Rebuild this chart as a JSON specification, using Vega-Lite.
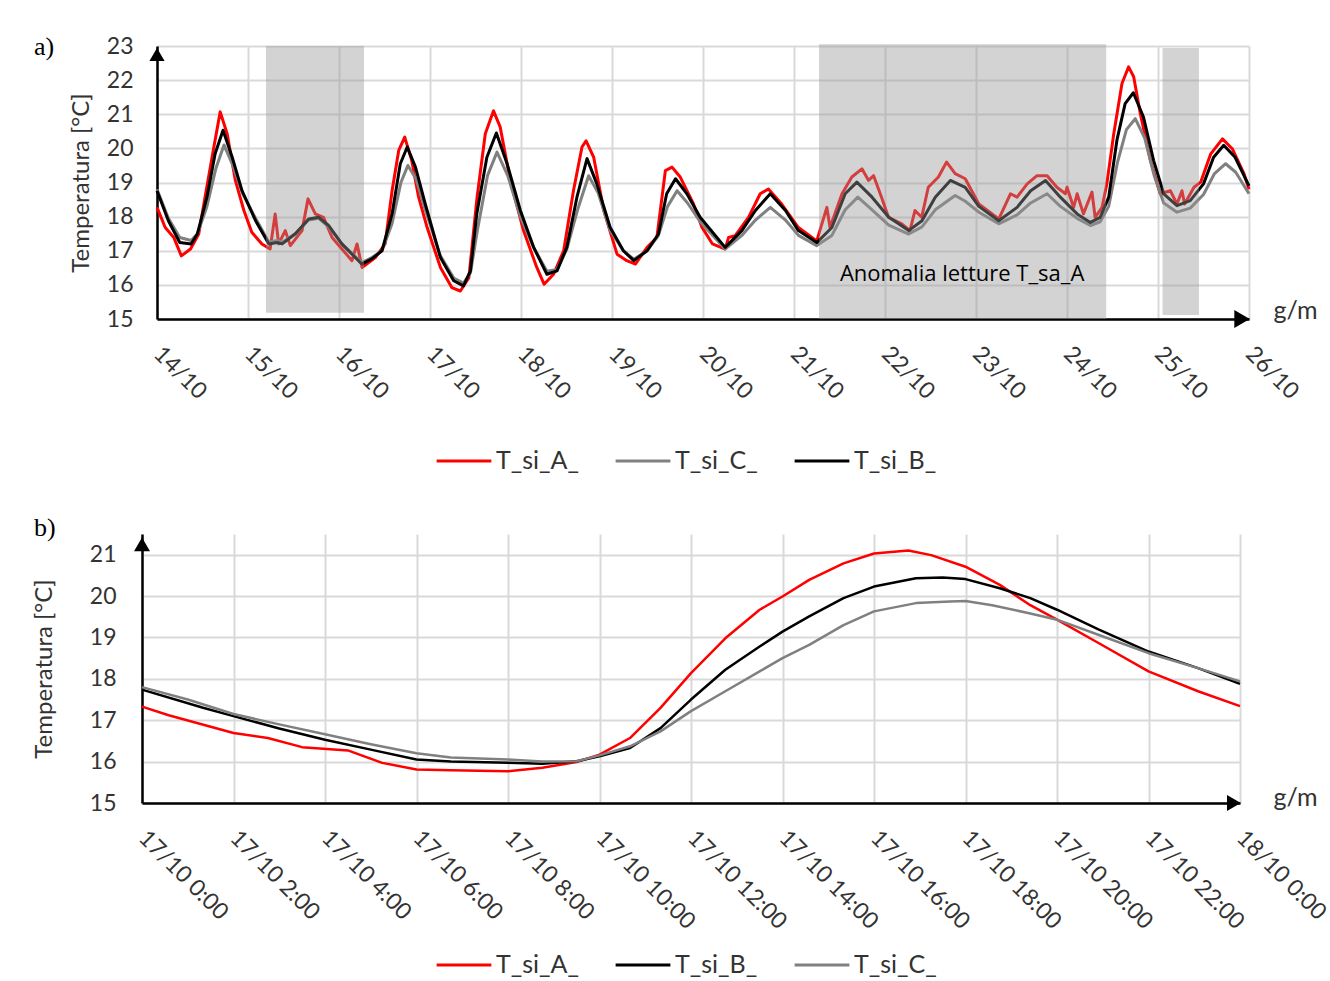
{
  "$schema": "https://vega.github.io/schema/vega-lite/v6.json",
  "background": "white",
  "padding": {"left": 32, "top": 34, "right": 5, "bottom": 2},
  "spacing": 41,
  "columns": 1,
  "config": {
    "view": {"stroke": null},
    "font": "Lato",
    "axis": {
      "grid": true, "gridColor": "#d9d9d9", "gridWidth": 2,
      "domainColor": "black", "domainWidth": 2.5, "ticks": false,
      "labelFont": "Lato", "labelFontSize": 23, "labelColor": "#333333",
      "titleFont": "Lato", "titleFontSize": 24, "titleFontWeight": "normal", "titleColor": "#333333"
    },
    "title": {"font": "Liberation Serif", "fontSize": 26, "fontWeight": "normal", "anchor": "start", "frame": "group", "color": "black"}
  },
  "datasets": {
    "seriesA": [
      {"t": "2019-10-14T00:00", "s": "T_si_A_", "v": 18.27},
      {"t": "2019-10-14T02:10", "s": "T_si_A_", "v": 17.68},
      {"t": "2019-10-14T04:25", "s": "T_si_A_", "v": 17.39},
      {"t": "2019-10-14T06:25", "s": "T_si_A_", "v": 16.85},
      {"t": "2019-10-14T08:50", "s": "T_si_A_", "v": 17.05},
      {"t": "2019-10-14T11:00", "s": "T_si_A_", "v": 17.49},
      {"t": "2019-10-14T12:40", "s": "T_si_A_", "v": 18.57},
      {"t": "2019-10-14T15:00", "s": "T_si_A_", "v": 20.04},
      {"t": "2019-10-14T16:40", "s": "T_si_A_", "v": 21.07},
      {"t": "2019-10-14T18:30", "s": "T_si_A_", "v": 20.43},
      {"t": "2019-10-14T20:40", "s": "T_si_A_", "v": 19.06},
      {"t": "2019-10-14T22:55", "s": "T_si_A_", "v": 18.18},
      {"t": "2019-10-15T01:00", "s": "T_si_A_", "v": 17.54},
      {"t": "2019-10-15T03:40", "s": "T_si_A_", "v": 17.2},
      {"t": "2019-10-15T05:50", "s": "T_si_A_", "v": 17.05},
      {"t": "2019-10-15T07:10", "s": "T_si_A_", "v": 18.08},
      {"t": "2019-10-15T08:05", "s": "T_si_A_", "v": 17.2},
      {"t": "2019-10-15T09:50", "s": "T_si_A_", "v": 17.59},
      {"t": "2019-10-15T11:10", "s": "T_si_A_", "v": 17.15},
      {"t": "2019-10-15T14:15", "s": "T_si_A_", "v": 17.59},
      {"t": "2019-10-15T15:50", "s": "T_si_A_", "v": 18.52},
      {"t": "2019-10-15T17:45", "s": "T_si_A_", "v": 18.08},
      {"t": "2019-10-15T19:55", "s": "T_si_A_", "v": 17.98},
      {"t": "2019-10-15T22:10", "s": "T_si_A_", "v": 17.39},
      {"t": "2019-10-16T01:10", "s": "T_si_A_", "v": 17.0},
      {"t": "2019-10-16T03:25", "s": "T_si_A_", "v": 16.71},
      {"t": "2019-10-16T04:45", "s": "T_si_A_", "v": 17.2},
      {"t": "2019-10-16T06:05", "s": "T_si_A_", "v": 16.51},
      {"t": "2019-10-16T09:35", "s": "T_si_A_", "v": 16.8},
      {"t": "2019-10-16T12:10", "s": "T_si_A_", "v": 17.2},
      {"t": "2019-10-16T14:00", "s": "T_si_A_", "v": 18.76},
      {"t": "2019-10-16T15:45", "s": "T_si_A_", "v": 19.94},
      {"t": "2019-10-16T17:20", "s": "T_si_A_", "v": 20.33},
      {"t": "2019-10-16T19:10", "s": "T_si_A_", "v": 19.65},
      {"t": "2019-10-16T21:00", "s": "T_si_A_", "v": 18.57},
      {"t": "2019-10-16T23:15", "s": "T_si_A_", "v": 17.68},
      {"t": "2019-10-17T02:45", "s": "T_si_A_", "v": 16.51},
      {"t": "2019-10-17T05:45", "s": "T_si_A_", "v": 15.92},
      {"t": "2019-10-17T08:00", "s": "T_si_A_", "v": 15.82},
      {"t": "2019-10-17T10:15", "s": "T_si_A_", "v": 16.21},
      {"t": "2019-10-17T12:25", "s": "T_si_A_", "v": 18.57},
      {"t": "2019-10-17T14:35", "s": "T_si_A_", "v": 20.43},
      {"t": "2019-10-17T16:45", "s": "T_si_A_", "v": 21.1},
      {"t": "2019-10-17T18:30", "s": "T_si_A_", "v": 20.63},
      {"t": "2019-10-17T21:10", "s": "T_si_A_", "v": 19.06},
      {"t": "2019-10-18T00:40", "s": "T_si_A_", "v": 17.59},
      {"t": "2019-10-18T04:10", "s": "T_si_A_", "v": 16.51},
      {"t": "2019-10-18T06:05", "s": "T_si_A_", "v": 16.02},
      {"t": "2019-10-18T08:35", "s": "T_si_A_", "v": 16.31},
      {"t": "2019-10-18T11:15", "s": "T_si_A_", "v": 17.0},
      {"t": "2019-10-18T13:50", "s": "T_si_A_", "v": 18.76},
      {"t": "2019-10-18T16:05", "s": "T_si_A_", "v": 20.04},
      {"t": "2019-10-18T17:10", "s": "T_si_A_", "v": 20.22},
      {"t": "2019-10-18T19:10", "s": "T_si_A_", "v": 19.74},
      {"t": "2019-10-18T21:50", "s": "T_si_A_", "v": 18.18},
      {"t": "2019-10-19T01:20", "s": "T_si_A_", "v": 16.9},
      {"t": "2019-10-19T03:55", "s": "T_si_A_", "v": 16.71},
      {"t": "2019-10-19T06:10", "s": "T_si_A_", "v": 16.61},
      {"t": "2019-10-19T09:15", "s": "T_si_A_", "v": 17.1},
      {"t": "2019-10-19T11:50", "s": "T_si_A_", "v": 17.39},
      {"t": "2019-10-19T14:05", "s": "T_si_A_", "v": 19.35},
      {"t": "2019-10-19T15:50", "s": "T_si_A_", "v": 19.45},
      {"t": "2019-10-19T18:00", "s": "T_si_A_", "v": 19.16},
      {"t": "2019-10-19T21:30", "s": "T_si_A_", "v": 18.37},
      {"t": "2019-10-19T23:40", "s": "T_si_A_", "v": 17.7},
      {"t": "2019-10-20T02:30", "s": "T_si_A_", "v": 17.2},
      {"t": "2019-10-20T05:50", "s": "T_si_A_", "v": 17.05},
      {"t": "2019-10-20T06:45", "s": "T_si_A_", "v": 17.39},
      {"t": "2019-10-20T08:30", "s": "T_si_A_", "v": 17.44},
      {"t": "2019-10-20T12:00", "s": "T_si_A_", "v": 17.98},
      {"t": "2019-10-20T15:05", "s": "T_si_A_", "v": 18.67},
      {"t": "2019-10-20T17:15", "s": "T_si_A_", "v": 18.81},
      {"t": "2019-10-20T20:45", "s": "T_si_A_", "v": 18.37},
      {"t": "2019-10-21T01:10", "s": "T_si_A_", "v": 17.68},
      {"t": "2019-10-21T06:00", "s": "T_si_A_", "v": 17.29},
      {"t": "2019-10-21T08:40", "s": "T_si_A_", "v": 18.27},
      {"t": "2019-10-21T09:30", "s": "T_si_A_", "v": 17.68},
      {"t": "2019-10-21T12:40", "s": "T_si_A_", "v": 18.67},
      {"t": "2019-10-21T15:15", "s": "T_si_A_", "v": 19.16},
      {"t": "2019-10-21T17:55", "s": "T_si_A_", "v": 19.4},
      {"t": "2019-10-21T19:40", "s": "T_si_A_", "v": 19.06},
      {"t": "2019-10-21T21:00", "s": "T_si_A_", "v": 19.2},
      {"t": "2019-10-21T23:05", "s": "T_si_A_", "v": 18.57},
      {"t": "2019-10-22T00:55", "s": "T_si_A_", "v": 17.98},
      {"t": "2019-10-22T04:25", "s": "T_si_A_", "v": 17.79},
      {"t": "2019-10-22T06:35", "s": "T_si_A_", "v": 17.59},
      {"t": "2019-10-22T07:55", "s": "T_si_A_", "v": 18.18},
      {"t": "2019-10-22T09:40", "s": "T_si_A_", "v": 17.98},
      {"t": "2019-10-22T11:25", "s": "T_si_A_", "v": 18.86},
      {"t": "2019-10-22T14:05", "s": "T_si_A_", "v": 19.16},
      {"t": "2019-10-22T16:15", "s": "T_si_A_", "v": 19.6},
      {"t": "2019-10-22T18:30", "s": "T_si_A_", "v": 19.26},
      {"t": "2019-10-22T21:10", "s": "T_si_A_", "v": 19.11},
      {"t": "2019-10-23T00:45", "s": "T_si_A_", "v": 18.37},
      {"t": "2019-10-23T06:00", "s": "T_si_A_", "v": 17.93},
      {"t": "2019-10-23T09:05", "s": "T_si_A_", "v": 18.67},
      {"t": "2019-10-23T10:50", "s": "T_si_A_", "v": 18.57},
      {"t": "2019-10-23T13:30", "s": "T_si_A_", "v": 18.96},
      {"t": "2019-10-23T16:05", "s": "T_si_A_", "v": 19.2},
      {"t": "2019-10-23T18:45", "s": "T_si_A_", "v": 19.2},
      {"t": "2019-10-23T21:20", "s": "T_si_A_", "v": 18.86},
      {"t": "2019-10-23T23:35", "s": "T_si_A_", "v": 18.67},
      {"t": "2019-10-24T00:00", "s": "T_si_A_", "v": 18.86},
      {"t": "2019-10-24T01:45", "s": "T_si_A_", "v": 18.27},
      {"t": "2019-10-24T02:40", "s": "T_si_A_", "v": 18.67},
      {"t": "2019-10-24T04:20", "s": "T_si_A_", "v": 18.08},
      {"t": "2019-10-24T06:35", "s": "T_si_A_", "v": 18.72},
      {"t": "2019-10-24T07:25", "s": "T_si_A_", "v": 17.98},
      {"t": "2019-10-24T09:15", "s": "T_si_A_", "v": 18.27},
      {"t": "2019-10-24T10:30", "s": "T_si_A_", "v": 18.96},
      {"t": "2019-10-24T12:20", "s": "T_si_A_", "v": 20.43},
      {"t": "2019-10-24T14:30", "s": "T_si_A_", "v": 21.9},
      {"t": "2019-10-24T16:15", "s": "T_si_A_", "v": 22.39},
      {"t": "2019-10-24T17:35", "s": "T_si_A_", "v": 22.1},
      {"t": "2019-10-24T19:20", "s": "T_si_A_", "v": 21.02},
      {"t": "2019-10-24T22:00", "s": "T_si_A_", "v": 19.65},
      {"t": "2019-10-25T00:35", "s": "T_si_A_", "v": 18.67},
      {"t": "2019-10-25T03:15", "s": "T_si_A_", "v": 18.76},
      {"t": "2019-10-25T05:00", "s": "T_si_A_", "v": 18.37},
      {"t": "2019-10-25T06:20", "s": "T_si_A_", "v": 18.76},
      {"t": "2019-10-25T07:00", "s": "T_si_A_", "v": 18.37},
      {"t": "2019-10-25T09:30", "s": "T_si_A_", "v": 18.86},
      {"t": "2019-10-25T11:15", "s": "T_si_A_", "v": 19.01},
      {"t": "2019-10-25T13:55", "s": "T_si_A_", "v": 19.84},
      {"t": "2019-10-25T17:00", "s": "T_si_A_", "v": 20.28},
      {"t": "2019-10-25T19:35", "s": "T_si_A_", "v": 19.99},
      {"t": "2019-10-25T22:40", "s": "T_si_A_", "v": 19.26},
      {"t": "2019-10-26T00:00", "s": "T_si_A_", "v": 18.8},

      {"t": "2019-10-14T00:00", "s": "T_si_C_", "v": 18.8},
      {"t": "2019-10-14T03:00", "s": "T_si_C_", "v": 17.95},
      {"t": "2019-10-14T06:00", "s": "T_si_C_", "v": 17.39},
      {"t": "2019-10-14T09:00", "s": "T_si_C_", "v": 17.3},
      {"t": "2019-10-14T10:40", "s": "T_si_C_", "v": 17.5},
      {"t": "2019-10-14T13:10", "s": "T_si_C_", "v": 18.3},
      {"t": "2019-10-14T15:30", "s": "T_si_C_", "v": 19.4},
      {"t": "2019-10-14T17:40", "s": "T_si_C_", "v": 20.1},
      {"t": "2019-10-14T20:00", "s": "T_si_C_", "v": 19.5},
      {"t": "2019-10-14T22:30", "s": "T_si_C_", "v": 18.7},
      {"t": "2019-10-15T02:00", "s": "T_si_C_", "v": 17.95},
      {"t": "2019-10-15T05:30", "s": "T_si_C_", "v": 17.25},
      {"t": "2019-10-15T07:40", "s": "T_si_C_", "v": 17.3},
      {"t": "2019-10-15T09:00", "s": "T_si_C_", "v": 17.25},
      {"t": "2019-10-15T12:30", "s": "T_si_C_", "v": 17.5},
      {"t": "2019-10-15T16:00", "s": "T_si_C_", "v": 17.9},
      {"t": "2019-10-15T18:40", "s": "T_si_C_", "v": 17.95},
      {"t": "2019-10-15T21:15", "s": "T_si_C_", "v": 17.7},
      {"t": "2019-10-16T00:45", "s": "T_si_C_", "v": 17.2},
      {"t": "2019-10-16T06:00", "s": "T_si_C_", "v": 16.65},
      {"t": "2019-10-16T08:40", "s": "T_si_C_", "v": 16.8},
      {"t": "2019-10-16T11:20", "s": "T_si_C_", "v": 17.0},
      {"t": "2019-10-16T14:00", "s": "T_si_C_", "v": 17.8},
      {"t": "2019-10-16T16:20", "s": "T_si_C_", "v": 19.0},
      {"t": "2019-10-16T18:10", "s": "T_si_C_", "v": 19.5},
      {"t": "2019-10-16T20:20", "s": "T_si_C_", "v": 19.1},
      {"t": "2019-10-16T22:45", "s": "T_si_C_", "v": 18.2},
      {"t": "2019-10-17T02:45", "s": "T_si_C_", "v": 16.85},
      {"t": "2019-10-17T06:15", "s": "T_si_C_", "v": 16.2},
      {"t": "2019-10-17T08:50", "s": "T_si_C_", "v": 16.05},
      {"t": "2019-10-17T10:40", "s": "T_si_C_", "v": 16.35},
      {"t": "2019-10-17T12:30", "s": "T_si_C_", "v": 17.6},
      {"t": "2019-10-17T15:10", "s": "T_si_C_", "v": 19.2},
      {"t": "2019-10-17T17:40", "s": "T_si_C_", "v": 19.89},
      {"t": "2019-10-17T20:30", "s": "T_si_C_", "v": 19.2},
      {"t": "2019-10-17T23:50", "s": "T_si_C_", "v": 18.0},
      {"t": "2019-10-18T03:20", "s": "T_si_C_", "v": 17.1},
      {"t": "2019-10-18T06:50", "s": "T_si_C_", "v": 16.4},
      {"t": "2019-10-18T09:30", "s": "T_si_C_", "v": 16.45},
      {"t": "2019-10-18T12:05", "s": "T_si_C_", "v": 17.05},
      {"t": "2019-10-18T14:55", "s": "T_si_C_", "v": 18.2},
      {"t": "2019-10-18T17:50", "s": "T_si_C_", "v": 19.2},
      {"t": "2019-10-18T20:20", "s": "T_si_C_", "v": 18.7},
      {"t": "2019-10-18T23:30", "s": "T_si_C_", "v": 17.6},
      {"t": "2019-10-19T03:00", "s": "T_si_C_", "v": 17.0},
      {"t": "2019-10-19T05:45", "s": "T_si_C_", "v": 16.75},
      {"t": "2019-10-19T09:15", "s": "T_si_C_", "v": 17.0},
      {"t": "2019-10-19T12:15", "s": "T_si_C_", "v": 17.45},
      {"t": "2019-10-19T14:40", "s": "T_si_C_", "v": 18.3},
      {"t": "2019-10-19T17:10", "s": "T_si_C_", "v": 18.76},
      {"t": "2019-10-19T19:55", "s": "T_si_C_", "v": 18.4},
      {"t": "2019-10-19T23:15", "s": "T_si_C_", "v": 17.85},
      {"t": "2019-10-20T05:50", "s": "T_si_C_", "v": 17.05},
      {"t": "2019-10-20T10:15", "s": "T_si_C_", "v": 17.45},
      {"t": "2019-10-20T13:50", "s": "T_si_C_", "v": 17.9},
      {"t": "2019-10-20T17:45", "s": "T_si_C_", "v": 18.27},
      {"t": "2019-10-20T21:45", "s": "T_si_C_", "v": 17.9},
      {"t": "2019-10-21T01:10", "s": "T_si_C_", "v": 17.45},
      {"t": "2019-10-21T06:00", "s": "T_si_C_", "v": 17.15},
      {"t": "2019-10-21T10:00", "s": "T_si_C_", "v": 17.45},
      {"t": "2019-10-21T13:30", "s": "T_si_C_", "v": 18.2},
      {"t": "2019-10-21T16:50", "s": "T_si_C_", "v": 18.57},
      {"t": "2019-10-21T20:35", "s": "T_si_C_", "v": 18.2},
      {"t": "2019-10-22T01:00", "s": "T_si_C_", "v": 17.75},
      {"t": "2019-10-22T06:15", "s": "T_si_C_", "v": 17.49},
      {"t": "2019-10-22T09:45", "s": "T_si_C_", "v": 17.7},
      {"t": "2019-10-22T13:15", "s": "T_si_C_", "v": 18.2},
      {"t": "2019-10-22T18:30", "s": "T_si_C_", "v": 18.62},
      {"t": "2019-10-22T21:10", "s": "T_si_C_", "v": 18.45},
      {"t": "2019-10-23T00:45", "s": "T_si_C_", "v": 18.13},
      {"t": "2019-10-23T06:00", "s": "T_si_C_", "v": 17.79},
      {"t": "2019-10-23T10:50", "s": "T_si_C_", "v": 18.05},
      {"t": "2019-10-23T14:25", "s": "T_si_C_", "v": 18.4},
      {"t": "2019-10-23T18:45", "s": "T_si_C_", "v": 18.67},
      {"t": "2019-10-23T22:15", "s": "T_si_C_", "v": 18.3},
      {"t": "2019-10-24T02:40", "s": "T_si_C_", "v": 17.95},
      {"t": "2019-10-24T06:10", "s": "T_si_C_", "v": 17.74},
      {"t": "2019-10-24T08:45", "s": "T_si_C_", "v": 17.85},
      {"t": "2019-10-24T11:00", "s": "T_si_C_", "v": 18.3},
      {"t": "2019-10-24T13:20", "s": "T_si_C_", "v": 19.6},
      {"t": "2019-10-24T15:40", "s": "T_si_C_", "v": 20.55},
      {"t": "2019-10-24T18:00", "s": "T_si_C_", "v": 20.87},
      {"t": "2019-10-24T20:30", "s": "T_si_C_", "v": 20.3},
      {"t": "2019-10-24T23:00", "s": "T_si_C_", "v": 19.2},
      {"t": "2019-10-25T01:30", "s": "T_si_C_", "v": 18.4},
      {"t": "2019-10-25T05:00", "s": "T_si_C_", "v": 18.13},
      {"t": "2019-10-25T08:30", "s": "T_si_C_", "v": 18.25},
      {"t": "2019-10-25T12:00", "s": "T_si_C_", "v": 18.65},
      {"t": "2019-10-25T14:50", "s": "T_si_C_", "v": 19.25},
      {"t": "2019-10-25T17:50", "s": "T_si_C_", "v": 19.55},
      {"t": "2019-10-25T20:30", "s": "T_si_C_", "v": 19.3},
      {"t": "2019-10-26T00:00", "s": "T_si_C_", "v": 18.67},

      {"t": "2019-10-14T00:00", "s": "T_si_B_", "v": 18.76},
      {"t": "2019-10-14T03:00", "s": "T_si_B_", "v": 17.88},
      {"t": "2019-10-14T06:00", "s": "T_si_B_", "v": 17.24},
      {"t": "2019-10-14T09:00", "s": "T_si_B_", "v": 17.2},
      {"t": "2019-10-14T10:40", "s": "T_si_B_", "v": 17.5},
      {"t": "2019-10-14T13:10", "s": "T_si_B_", "v": 18.57},
      {"t": "2019-10-14T15:20", "s": "T_si_B_", "v": 19.84},
      {"t": "2019-10-14T17:25", "s": "T_si_B_", "v": 20.53},
      {"t": "2019-10-14T19:50", "s": "T_si_B_", "v": 19.74},
      {"t": "2019-10-14T22:25", "s": "T_si_B_", "v": 18.76},
      {"t": "2019-10-15T02:00", "s": "T_si_B_", "v": 17.88},
      {"t": "2019-10-15T05:30", "s": "T_si_B_", "v": 17.2},
      {"t": "2019-10-15T07:40", "s": "T_si_B_", "v": 17.24},
      {"t": "2019-10-15T09:00", "s": "T_si_B_", "v": 17.2},
      {"t": "2019-10-15T12:30", "s": "T_si_B_", "v": 17.5},
      {"t": "2019-10-15T16:00", "s": "T_si_B_", "v": 17.93},
      {"t": "2019-10-15T18:40", "s": "T_si_B_", "v": 17.98},
      {"t": "2019-10-15T21:15", "s": "T_si_B_", "v": 17.74},
      {"t": "2019-10-16T00:45", "s": "T_si_B_", "v": 17.2},
      {"t": "2019-10-16T06:00", "s": "T_si_B_", "v": 16.61},
      {"t": "2019-10-16T08:40", "s": "T_si_B_", "v": 16.76},
      {"t": "2019-10-16T11:20", "s": "T_si_B_", "v": 17.0},
      {"t": "2019-10-16T14:00", "s": "T_si_B_", "v": 18.08},
      {"t": "2019-10-16T16:10", "s": "T_si_B_", "v": 19.55},
      {"t": "2019-10-16T18:00", "s": "T_si_B_", "v": 20.04},
      {"t": "2019-10-16T20:10", "s": "T_si_B_", "v": 19.45},
      {"t": "2019-10-16T22:45", "s": "T_si_B_", "v": 18.37},
      {"t": "2019-10-17T02:45", "s": "T_si_B_", "v": 16.8},
      {"t": "2019-10-17T06:15", "s": "T_si_B_", "v": 16.12},
      {"t": "2019-10-17T08:50", "s": "T_si_B_", "v": 15.97},
      {"t": "2019-10-17T10:40", "s": "T_si_B_", "v": 16.41},
      {"t": "2019-10-17T12:20", "s": "T_si_B_", "v": 18.08},
      {"t": "2019-10-17T15:00", "s": "T_si_B_", "v": 19.74},
      {"t": "2019-10-17T17:30", "s": "T_si_B_", "v": 20.45},
      {"t": "2019-10-17T20:20", "s": "T_si_B_", "v": 19.55},
      {"t": "2019-10-17T23:50", "s": "T_si_B_", "v": 18.18},
      {"t": "2019-10-18T03:20", "s": "T_si_B_", "v": 17.1},
      {"t": "2019-10-18T06:50", "s": "T_si_B_", "v": 16.31},
      {"t": "2019-10-18T09:30", "s": "T_si_B_", "v": 16.41},
      {"t": "2019-10-18T12:05", "s": "T_si_B_", "v": 17.1},
      {"t": "2019-10-18T14:45", "s": "T_si_B_", "v": 18.57},
      {"t": "2019-10-18T17:25", "s": "T_si_B_", "v": 19.7},
      {"t": "2019-10-18T20:00", "s": "T_si_B_", "v": 18.96},
      {"t": "2019-10-18T23:30", "s": "T_si_B_", "v": 17.69},
      {"t": "2019-10-19T03:00", "s": "T_si_B_", "v": 17.0},
      {"t": "2019-10-19T05:45", "s": "T_si_B_", "v": 16.71},
      {"t": "2019-10-19T09:15", "s": "T_si_B_", "v": 17.0},
      {"t": "2019-10-19T12:15", "s": "T_si_B_", "v": 17.49},
      {"t": "2019-10-19T14:25", "s": "T_si_B_", "v": 18.67},
      {"t": "2019-10-19T16:45", "s": "T_si_B_", "v": 19.11},
      {"t": "2019-10-19T19:45", "s": "T_si_B_", "v": 18.67},
      {"t": "2019-10-19T23:15", "s": "T_si_B_", "v": 17.98},
      {"t": "2019-10-20T05:50", "s": "T_si_B_", "v": 17.1},
      {"t": "2019-10-20T10:15", "s": "T_si_B_", "v": 17.59},
      {"t": "2019-10-20T13:50", "s": "T_si_B_", "v": 18.18},
      {"t": "2019-10-20T17:45", "s": "T_si_B_", "v": 18.67},
      {"t": "2019-10-20T21:45", "s": "T_si_B_", "v": 18.18},
      {"t": "2019-10-21T01:10", "s": "T_si_B_", "v": 17.59},
      {"t": "2019-10-21T06:00", "s": "T_si_B_", "v": 17.24},
      {"t": "2019-10-21T10:00", "s": "T_si_B_", "v": 17.68},
      {"t": "2019-10-21T13:30", "s": "T_si_B_", "v": 18.67},
      {"t": "2019-10-21T16:35", "s": "T_si_B_", "v": 19.01},
      {"t": "2019-10-21T20:35", "s": "T_si_B_", "v": 18.57},
      {"t": "2019-10-22T01:00", "s": "T_si_B_", "v": 17.98},
      {"t": "2019-10-22T06:15", "s": "T_si_B_", "v": 17.59},
      {"t": "2019-10-22T09:45", "s": "T_si_B_", "v": 17.88},
      {"t": "2019-10-22T13:15", "s": "T_si_B_", "v": 18.57},
      {"t": "2019-10-22T17:15", "s": "T_si_B_", "v": 19.06},
      {"t": "2019-10-22T21:10", "s": "T_si_B_", "v": 18.86},
      {"t": "2019-10-23T00:45", "s": "T_si_B_", "v": 18.3},
      {"t": "2019-10-23T06:00", "s": "T_si_B_", "v": 17.88},
      {"t": "2019-10-23T10:50", "s": "T_si_B_", "v": 18.27},
      {"t": "2019-10-23T14:25", "s": "T_si_B_", "v": 18.76},
      {"t": "2019-10-23T18:20", "s": "T_si_B_", "v": 19.06},
      {"t": "2019-10-23T22:15", "s": "T_si_B_", "v": 18.57},
      {"t": "2019-10-24T02:40", "s": "T_si_B_", "v": 18.08},
      {"t": "2019-10-24T06:10", "s": "T_si_B_", "v": 17.83},
      {"t": "2019-10-24T08:45", "s": "T_si_B_", "v": 17.98},
      {"t": "2019-10-24T11:00", "s": "T_si_B_", "v": 18.57},
      {"t": "2019-10-24T13:10", "s": "T_si_B_", "v": 20.24},
      {"t": "2019-10-24T15:20", "s": "T_si_B_", "v": 21.31},
      {"t": "2019-10-24T17:30", "s": "T_si_B_", "v": 21.63},
      {"t": "2019-10-24T20:10", "s": "T_si_B_", "v": 20.92},
      {"t": "2019-10-24T22:50", "s": "T_si_B_", "v": 19.65},
      {"t": "2019-10-25T01:30", "s": "T_si_B_", "v": 18.67},
      {"t": "2019-10-25T05:00", "s": "T_si_B_", "v": 18.32},
      {"t": "2019-10-25T08:30", "s": "T_si_B_", "v": 18.47},
      {"t": "2019-10-25T12:00", "s": "T_si_B_", "v": 18.96},
      {"t": "2019-10-25T14:40", "s": "T_si_B_", "v": 19.74},
      {"t": "2019-10-25T17:20", "s": "T_si_B_", "v": 20.09},
      {"t": "2019-10-25T20:20", "s": "T_si_B_", "v": 19.74},
      {"t": "2019-10-26T00:00", "s": "T_si_B_", "v": 18.9}
    ],
    "shadeA": [
      {"start": "2019-10-15T04:45", "end": "2019-10-16T06:36", "top": 23, "bottom": 15.18},
      {"start": "2019-10-21T06:36", "end": "2019-10-24T10:20", "top": 23.05, "bottom": 15},
      {"start": "2019-10-25T01:12", "end": "2019-10-25T10:48", "top": 22.94, "bottom": 15.12}
    ],
    "seriesB": [
      {"t": "2019-10-17T00:00", "s": "T_si_A_", "v": 17.33},
      {"t": "2019-10-17T00:35", "s": "T_si_A_", "v": 17.12},
      {"t": "2019-10-17T02:00", "s": "T_si_A_", "v": 16.69},
      {"t": "2019-10-17T02:45", "s": "T_si_A_", "v": 16.57},
      {"t": "2019-10-17T03:30", "s": "T_si_A_", "v": 16.35},
      {"t": "2019-10-17T04:30", "s": "T_si_A_", "v": 16.27},
      {"t": "2019-10-17T05:15", "s": "T_si_A_", "v": 15.97},
      {"t": "2019-10-17T06:00", "s": "T_si_A_", "v": 15.81},
      {"t": "2019-10-17T06:45", "s": "T_si_A_", "v": 15.79},
      {"t": "2019-10-17T08:00", "s": "T_si_A_", "v": 15.77},
      {"t": "2019-10-17T08:45", "s": "T_si_A_", "v": 15.85},
      {"t": "2019-10-17T09:30", "s": "T_si_A_", "v": 15.99},
      {"t": "2019-10-17T10:00", "s": "T_si_A_", "v": 16.17},
      {"t": "2019-10-17T10:40", "s": "T_si_A_", "v": 16.57},
      {"t": "2019-10-17T11:20", "s": "T_si_A_", "v": 17.3},
      {"t": "2019-10-17T12:00", "s": "T_si_A_", "v": 18.14},
      {"t": "2019-10-17T12:45", "s": "T_si_A_", "v": 18.98},
      {"t": "2019-10-17T13:30", "s": "T_si_A_", "v": 19.67},
      {"t": "2019-10-17T14:00", "s": "T_si_A_", "v": 19.99},
      {"t": "2019-10-17T14:35", "s": "T_si_A_", "v": 20.39},
      {"t": "2019-10-17T15:20", "s": "T_si_A_", "v": 20.79},
      {"t": "2019-10-17T16:00", "s": "T_si_A_", "v": 21.03},
      {"t": "2019-10-17T16:45", "s": "T_si_A_", "v": 21.1},
      {"t": "2019-10-17T17:15", "s": "T_si_A_", "v": 20.99},
      {"t": "2019-10-17T18:00", "s": "T_si_A_", "v": 20.71},
      {"t": "2019-10-17T18:45", "s": "T_si_A_", "v": 20.27},
      {"t": "2019-10-17T19:25", "s": "T_si_A_", "v": 19.78},
      {"t": "2019-10-17T20:00", "s": "T_si_A_", "v": 19.43},
      {"t": "2019-10-17T20:55", "s": "T_si_A_", "v": 18.86},
      {"t": "2019-10-17T22:00", "s": "T_si_A_", "v": 18.18},
      {"t": "2019-10-17T23:05", "s": "T_si_A_", "v": 17.7},
      {"t": "2019-10-18T00:00", "s": "T_si_A_", "v": 17.34},

      {"t": "2019-10-17T00:00", "s": "T_si_B_", "v": 17.74},
      {"t": "2019-10-17T01:20", "s": "T_si_B_", "v": 17.3},
      {"t": "2019-10-17T02:00", "s": "T_si_B_", "v": 17.1},
      {"t": "2019-10-17T03:00", "s": "T_si_B_", "v": 16.8},
      {"t": "2019-10-17T04:00", "s": "T_si_B_", "v": 16.53},
      {"t": "2019-10-17T05:00", "s": "T_si_B_", "v": 16.29},
      {"t": "2019-10-17T06:00", "s": "T_si_B_", "v": 16.05},
      {"t": "2019-10-17T06:45", "s": "T_si_B_", "v": 16.0},
      {"t": "2019-10-17T08:00", "s": "T_si_B_", "v": 15.97},
      {"t": "2019-10-17T08:45", "s": "T_si_B_", "v": 15.95},
      {"t": "2019-10-17T09:30", "s": "T_si_B_", "v": 16.01},
      {"t": "2019-10-17T10:00", "s": "T_si_B_", "v": 16.13},
      {"t": "2019-10-17T10:40", "s": "T_si_B_", "v": 16.33},
      {"t": "2019-10-17T11:20", "s": "T_si_B_", "v": 16.81},
      {"t": "2019-10-17T12:00", "s": "T_si_B_", "v": 17.5},
      {"t": "2019-10-17T12:45", "s": "T_si_B_", "v": 18.22},
      {"t": "2019-10-17T13:30", "s": "T_si_B_", "v": 18.78},
      {"t": "2019-10-17T14:00", "s": "T_si_B_", "v": 19.14},
      {"t": "2019-10-17T14:35", "s": "T_si_B_", "v": 19.51},
      {"t": "2019-10-17T15:20", "s": "T_si_B_", "v": 19.95},
      {"t": "2019-10-17T16:00", "s": "T_si_B_", "v": 20.23},
      {"t": "2019-10-17T16:55", "s": "T_si_B_", "v": 20.43},
      {"t": "2019-10-17T17:30", "s": "T_si_B_", "v": 20.45},
      {"t": "2019-10-17T18:00", "s": "T_si_B_", "v": 20.41},
      {"t": "2019-10-17T18:45", "s": "T_si_B_", "v": 20.19},
      {"t": "2019-10-17T19:25", "s": "T_si_B_", "v": 19.95},
      {"t": "2019-10-17T20:00", "s": "T_si_B_", "v": 19.67},
      {"t": "2019-10-17T20:55", "s": "T_si_B_", "v": 19.19},
      {"t": "2019-10-17T22:00", "s": "T_si_B_", "v": 18.66},
      {"t": "2019-10-17T23:05", "s": "T_si_B_", "v": 18.26},
      {"t": "2019-10-18T00:00", "s": "T_si_B_", "v": 17.88},

      {"t": "2019-10-17T00:00", "s": "T_si_C_", "v": 17.8},
      {"t": "2019-10-17T01:00", "s": "T_si_C_", "v": 17.5},
      {"t": "2019-10-17T02:00", "s": "T_si_C_", "v": 17.15},
      {"t": "2019-10-17T03:00", "s": "T_si_C_", "v": 16.9},
      {"t": "2019-10-17T04:00", "s": "T_si_C_", "v": 16.66},
      {"t": "2019-10-17T05:00", "s": "T_si_C_", "v": 16.42},
      {"t": "2019-10-17T06:00", "s": "T_si_C_", "v": 16.2},
      {"t": "2019-10-17T06:45", "s": "T_si_C_", "v": 16.1},
      {"t": "2019-10-17T08:00", "s": "T_si_C_", "v": 16.05},
      {"t": "2019-10-17T08:45", "s": "T_si_C_", "v": 16.0},
      {"t": "2019-10-17T09:30", "s": "T_si_C_", "v": 16.01},
      {"t": "2019-10-17T10:00", "s": "T_si_C_", "v": 16.15},
      {"t": "2019-10-17T10:40", "s": "T_si_C_", "v": 16.37},
      {"t": "2019-10-17T11:20", "s": "T_si_C_", "v": 16.73},
      {"t": "2019-10-17T12:00", "s": "T_si_C_", "v": 17.22},
      {"t": "2019-10-17T12:45", "s": "T_si_C_", "v": 17.7},
      {"t": "2019-10-17T13:30", "s": "T_si_C_", "v": 18.18},
      {"t": "2019-10-17T14:00", "s": "T_si_C_", "v": 18.5},
      {"t": "2019-10-17T14:35", "s": "T_si_C_", "v": 18.82},
      {"t": "2019-10-17T15:20", "s": "T_si_C_", "v": 19.3},
      {"t": "2019-10-17T16:00", "s": "T_si_C_", "v": 19.63},
      {"t": "2019-10-17T16:55", "s": "T_si_C_", "v": 19.83},
      {"t": "2019-10-17T17:40", "s": "T_si_C_", "v": 19.87},
      {"t": "2019-10-17T18:00", "s": "T_si_C_", "v": 19.88},
      {"t": "2019-10-17T18:35", "s": "T_si_C_", "v": 19.78},
      {"t": "2019-10-17T19:25", "s": "T_si_C_", "v": 19.58},
      {"t": "2019-10-17T20:00", "s": "T_si_C_", "v": 19.43},
      {"t": "2019-10-17T20:55", "s": "T_si_C_", "v": 19.06},
      {"t": "2019-10-17T22:00", "s": "T_si_C_", "v": 18.62},
      {"t": "2019-10-17T23:05", "s": "T_si_C_", "v": 18.26},
      {"t": "2019-10-18T00:00", "s": "T_si_C_", "v": 17.94}
    ]
  },
  "resolve": {"scale": {"color": "independent", "x": "independent", "y": "independent"}},
  "concat": [
    {
      "width": 1092,
      "height": 273,
      "title": {"text": "a)", "dx": -123, "dy": 46, "offset": 0, "baseline": "alphabetic"},
      "layer": [
        {
          "data": {"name": "seriesA"},
          "mark": {"type": "line", "strokeWidth": 3, "strokeJoin": "round"},
          "encoding": {
            "x": {
              "field": "t", "type": "temporal",
              "scale": {"domain": [{"year": 2019, "month": 10, "date": 14}, {"year": 2019, "month": 10, "date": 26}], "nice": false},
              "axis": {
                "title": "g/m", "format": "%d/%m",
                "values": [
                  {"year": 2019, "month": 10, "date": 14}, {"year": 2019, "month": 10, "date": 15}, {"year": 2019, "month": 10, "date": 16},
                  {"year": 2019, "month": 10, "date": 17}, {"year": 2019, "month": 10, "date": 18}, {"year": 2019, "month": 10, "date": 19},
                  {"year": 2019, "month": 10, "date": 20}, {"year": 2019, "month": 10, "date": 21}, {"year": 2019, "month": 10, "date": 22},
                  {"year": 2019, "month": 10, "date": 23}, {"year": 2019, "month": 10, "date": 24}, {"year": 2019, "month": 10, "date": 25},
                  {"year": 2019, "month": 10, "date": 26}
                ],
                "labelAngle": 45, "labelAlign": "left", "labelBaseline": "middle", "labelPadding": 31,
                "labelOverlap": false, "labelFlush": false, "labelBound": false,
                "titleX": 1138, "titleY": -1, "titleAlign": "center", "titleBaseline": "alphabetic", "titleFontSize": 25
              }
            },
            "y": {
              "field": "v", "type": "quantitative",
              "scale": {"domain": [15, 23], "nice": false, "zero": false},
              "axis": {"title": "Temperatura [°C]", "values": [15, 16, 17, 18, 19, 20, 21, 22, 23], "tickCount": 9, "labelOverlap": false, "labelPadding": 24, "titlePadding": 13}
            },
            "color": {
              "field": "s", "type": "nominal",
              "scale": {"domain": ["T_si_A_", "T_si_C_", "T_si_B_"], "range": ["#ff0000", "#808080", "#000000"]},
              "legend": {
                "orient": "none", "legendX": 278, "legendY": 386, "direction": "horizontal", "title": null,
                "symbolType": "stroke", "symbolStrokeWidth": 3, "symbolSize": 3000,
                "labelFont": "Lato", "labelFontSize": 25, "labelColor": "#333333", "columnPadding": 30, "labelOffset": 3
              }
            }
          }
        },
        {
          "data": {"name": "shadeA"},
          "mark": {"type": "rect", "color": "#969696", "opacity": 0.42},
          "encoding": {
            "x": {"field": "start", "type": "temporal"},
            "x2": {"field": "end"},
            "y": {
              "field": "top", "type": "quantitative",
              "axis": {"title": "Temperatura [°C]", "values": [15, 16, 17, 18, 19, 20, 21, 22, 23], "tickCount": 9, "labelOverlap": false, "labelPadding": 24, "titlePadding": 13}
            },
            "y2": {"field": "bottom"}
          }
        },
        {
          "data": {"values": [{}]},
          "mark": {"type": "text", "font": "Open Sans", "fontSize": 22, "color": "black", "align": "center", "baseline": "middle"},
          "encoding": {
            "x": {"datum": {"year": 2019, "month": 10, "date": 22, "hours": 20, "minutes": 20}, "type": "temporal"},
            "y": {"datum": 16.32, "axis": {"title": "Temperatura [°C]", "values": [15, 16, 17, 18, 19, 20, 21, 22, 23], "tickCount": 9, "labelOverlap": false, "labelPadding": 24, "titlePadding": 13}},
            "text": {"value": "Anomalia letture T_sa_A"}
          }
        },
        {
          "data": {"values": [{}]},
          "mark": {"type": "point", "shape": "triangle-up", "size": 230, "filled": true, "color": "black", "opacity": 1},
          "encoding": {
            "x": {"datum": {"year": 2019, "month": 10, "date": 14}, "type": "temporal"},
            "y": {"datum": 22.75, "axis": {"title": "Temperatura [°C]", "values": [15, 16, 17, 18, 19, 20, 21, 22, 23], "tickCount": 9, "labelOverlap": false, "labelPadding": 24, "titlePadding": 13}}
          }
        },
        {
          "data": {"values": [{}]},
          "mark": {"type": "point", "shape": "triangle-right", "size": 320, "filled": true, "color": "black", "opacity": 1},
          "encoding": {
            "x": {"datum": {"year": 2019, "month": 10, "date": 25, "hours": 22, "minutes": 10}, "type": "temporal"},
            "y": {"datum": 15, "axis": {"title": "Temperatura [°C]", "values": [15, 16, 17, 18, 19, 20, 21, 22, 23], "tickCount": 9, "labelOverlap": false, "labelPadding": 24, "titlePadding": 13}}
          }
        }
      ]
    },
    {
      "width": 1083,
      "height": 269,
      "title": {"text": "b)", "dx": -123, "dy": 28, "offset": 0, "baseline": "alphabetic"},
      "layer": [
        {
          "data": {"name": "seriesB"},
          "mark": {"type": "line", "strokeWidth": 2.5, "strokeJoin": "round"},
          "encoding": {
            "x": {
              "field": "t", "type": "temporal",
              "scale": {"domain": [{"year": 2019, "month": 10, "date": 17}, {"year": 2019, "month": 10, "date": 18}], "range": [-15, 1083], "nice": false},
              "axis": {
                "title": "g/m",
                "values": [
                  {"year": 2019, "month": 10, "date": 17, "hours": 0}, {"year": 2019, "month": 10, "date": 17, "hours": 2},
                  {"year": 2019, "month": 10, "date": 17, "hours": 4}, {"year": 2019, "month": 10, "date": 17, "hours": 6},
                  {"year": 2019, "month": 10, "date": 17, "hours": 8}, {"year": 2019, "month": 10, "date": 17, "hours": 10},
                  {"year": 2019, "month": 10, "date": 17, "hours": 12}, {"year": 2019, "month": 10, "date": 17, "hours": 14},
                  {"year": 2019, "month": 10, "date": 17, "hours": 16}, {"year": 2019, "month": 10, "date": 17, "hours": 18},
                  {"year": 2019, "month": 10, "date": 17, "hours": 20}, {"year": 2019, "month": 10, "date": 17, "hours": 22},
                  {"year": 2019, "month": 10, "date": 18, "hours": 0}
                ],
                "labelExpr": "timeFormat(datum.value, '%d/%m') + ' ' + hours(datum.value) + ':00'",
                "labelAngle": 45, "labelAlign": "left", "labelBaseline": "middle", "labelPadding": 31,
                "labelOverlap": false, "labelFlush": false, "labelBound": false,
                "titleX": 1138, "titleY": 2, "titleAlign": "center", "titleBaseline": "alphabetic", "titleFontSize": 25
              }
            },
            "y": {
              "field": "v", "type": "quantitative",
              "scale": {"domain": [15, 21.5], "nice": false, "zero": false},
              "axis": {"title": "Temperatura [°C]", "values": [15, 16, 17, 18, 19, 20, 21], "offset": 15, "labelOverlap": false, "labelPadding": 26, "titlePadding": 33}
            },
            "color": {
              "field": "s", "type": "nominal",
              "scale": {"domain": ["T_si_A_", "T_si_B_", "T_si_C_"], "range": ["#ff0000", "#000000", "#808080"]},
              "legend": {
                "orient": "none", "legendX": 278, "legendY": 402, "direction": "horizontal", "title": null,
                "symbolType": "stroke", "symbolStrokeWidth": 3, "symbolSize": 3000,
                "labelFont": "Lato", "labelFontSize": 25, "labelColor": "#333333", "columnPadding": 30, "labelOffset": 3
              }
            }
          }
        },
        {
          "data": {"values": [{}]},
          "mark": {"type": "point", "shape": "triangle-up", "size": 256, "filled": true, "color": "black", "opacity": 1},
          "encoding": {
            "x": {"datum": {"year": 2019, "month": 10, "date": 17}, "type": "temporal"},
            "y": {"datum": 21.25, "axis": {"title": "Temperatura [°C]", "values": [15, 16, 17, 18, 19, 20, 21], "offset": 15, "labelOverlap": false, "labelPadding": 26, "titlePadding": 33}}
          }
        },
        {
          "data": {"values": [{}]},
          "mark": {"type": "point", "shape": "triangle-right", "size": 256, "filled": true, "color": "black", "opacity": 1},
          "encoding": {
            "x": {"datum": {"year": 2019, "month": 10, "date": 17, "hours": 23, "minutes": 52}, "type": "temporal"},
            "y": {"datum": 15, "axis": {"title": "Temperatura [°C]", "values": [15, 16, 17, 18, 19, 20, 21], "offset": 15, "labelOverlap": false, "labelPadding": 26, "titlePadding": 33}}
          }
        }
      ]
    }
  ]
}
